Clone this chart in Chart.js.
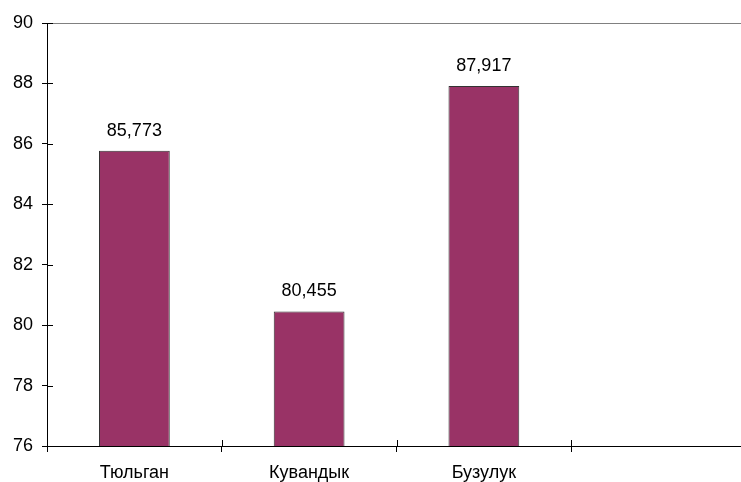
<!DOCTYPE html>
<html>
<head>
<meta charset="utf-8">
<script src="https://cdn.jsdelivr.net/npm/chart.js@4.4.0/dist/chart.umd.min.js"></script>
<style>
  html, body { margin: 0; padding: 0; background: #fff; overflow: hidden; }
  .wrap { position: absolute; left: 0; top: 0; width: 746px; height: 482px; }
</style>
</head>
<body>
<div class="wrap"><canvas id="barChart"></canvas></div>
<script>
// 데이터
const categories = ["Тюльган", "Кувандык", "Бузулук", ""];
const values = [85.773, 80.455, 87.917, null];
const yTicks = [76, 78, 80, 82, 84, 86, 88, 90];

const FONT = "'Liberation Sans', Arial, sans-serif";

// 막대 위 숫자 표시
const valueLabels = {
  id: 'valueLabels',
  afterDatasetsDraw(chart) {
    const { ctx } = chart;
    const meta = chart.getDatasetMeta(0);
    ctx.save();
    ctx.font = `18px ${FONT}`;
    ctx.fillStyle = '#000';
    ctx.textAlign = 'center';
    ctx.textBaseline = 'alphabetic';
    meta.data.forEach((bar, i) => {
      const v = values[i];
      if (v == null) return;
      ctx.fillText(v.toFixed(3).replace('.', ','), bar.x, bar.y - 15);
    });
    ctx.restore();
  }
};

// 축 안쪽으로 눈금 연장
const innerTicks = {
  id: 'innerTicks',
  afterDraw(chart) {
    const { ctx, chartArea, scales } = chart;
    ctx.save();
    ctx.strokeStyle = '#000';
    ctx.lineWidth = 1;
    ctx.beginPath();
    scales.y.ticks.forEach(t => {
      const y = Math.round(scales.y.getPixelForValue(t.value)) + 0.5;
      ctx.moveTo(chartArea.left, y);
      ctx.lineTo(chartArea.left + 6, y);
    });
    const n = categories.length;
    for (let i = 0; i <= n; i++) {
      const x = Math.round(scales.x.left + (scales.x.width / n) * i) + 0.5;
      ctx.moveTo(x, chartArea.bottom);
      ctx.lineTo(x, chartArea.bottom - 6);
    }
    ctx.stroke();
    ctx.restore();
  }
};

new Chart(document.getElementById('barChart'), {
  type: 'bar',
  data: {
    labels: categories,
    datasets: [{
      data: values,
      backgroundColor: '#993366',
      borderColor: '#333333',
      borderWidth: 1,
      borderSkipped: 'bottom',
      barPercentage: 0.405,
      categoryPercentage: 1.0
    }]
  },
  options: {
    responsive: true,
    maintainAspectRatio: false,
    animation: false,
    layout: { padding: { top: 23, right: 0, left: 0, bottom: 0 } },
    plugins: {
      legend: { display: false },
      tooltip: { enabled: false }
    },
    scales: {
      x: {
        afterFit: (s) => { s.height = 36; },
        border: { display: true, color: '#000', width: 1 },
        grid: {
          offset: true,
          drawOnChartArea: false,
          drawTicks: true,
          tickLength: 6,
          tickColor: '#000'
        },
        ticks: {
          color: '#000',
          font: { family: FONT, size: 18 },
          padding: 10,
          maxRotation: 0
        }
      },
      y: {
        min: 76,
        max: 90,
        afterFit: (s) => { s.width = 47; },
        afterBuildTicks: (s) => { s.ticks = yTicks.map(v => ({ value: v })); },
        border: { display: true, color: '#000', width: 1 },
        grid: {
          drawTicks: true,
          tickLength: 5,
          tickColor: '#000',
          color: (c) => (c.tick && c.tick.value === 90 ? '#808080' : 'rgba(0,0,0,0)')
        },
        ticks: {
          color: '#000',
          font: { family: FONT, size: 18 },
          padding: 9
        }
      }
    }
  },
  plugins: [valueLabels, innerTicks]
});
</script>
</body>
</html>
